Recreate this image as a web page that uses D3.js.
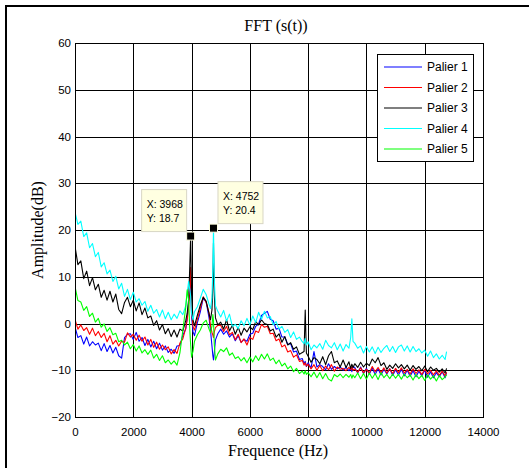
<!DOCTYPE html>
<html>
<head>
<meta charset="utf-8">
<script src="https://cdn.jsdelivr.net/npm/d3@7"></script>
<style>
  body { margin: 0; background: #fff; }
  svg { display: block; }
</style>
</head>
<body>
<svg id="chart" width="529" height="468"></svg>
<script>
// Frequency samples (Hz), shared by all five spectra
const freqHz = [
  0,100,200,300,400,500,600,700,800,900,1000,1100,1200,1300,1400,1500,1600,1700,1800,1900,
  2000,2100,2200,2300,2400,2500,2600,2700,2800,2900,3000,3100,3200,3300,3400,3500,3600,3700,3800,
  3850,3900,3940,3968,4000,4050,4100,4200,4300,4400,4500,4600,4650,4700,4730,4752,4780,4820,4900,
  5000,5100,5200,5300,5400,5500,5600,5700,5800,5900,6000,6100,6200,6300,6400,6500,6600,6700,6800,6900,
  7000,7100,7200,7300,7400,7500,7600,7700,7800,
  7860,7900,7940,
  8000,8100,8200,8300,8400,8500,8600,8700,8800,8900,9000,9100,9200,9300,9400,
  9460,9500,9540,
  9600,9700,9800,9900,10000,10100,10200,10300,10400,10500,10600,10700,10800,10900,11000,11100,
  11200,11300,11400,11500,11600,11700,11800,11900,12000,12100,12200,12300,12400,12500,12600,12700,
  12750
];

// Amplitude (dB) of each stage
const palier1 = [
  -0.7,-3.0,-2.6,-4.4,-2.9,-4.8,-3.9,-4.6,-4.2,-5.8,-4.3,-6.0,-4.7,-6.3,-5.1,-6.9,-7.4,-3.0,-2.3,-2.2,
  -3.4,-1.9,-3.8,-3.0,-4.7,-3.4,-5.0,-3.8,-5.4,-4.2,-5.7,-4.8,-6.2,-5.5,-6.4,-4.8,-4.7,-2.5,-1.2,
  1.2,4.5,6.8,8.5,1.5,-1.8,-2.6,0.2,2.5,5.4,4.6,1.2,-1.5,-4.8,-6.9,-7.8,-6.2,-3.5,-2.2,
  -1.2,-2.3,-1.6,-2.9,-2.2,-3.7,-2.6,-4.0,-3.4,-3.8,-2.3,-2.1,-0.6,-0.1,1.7,2.2,2.6,0.9,0.6,-1.2,
  -1.0,-2.9,-2.9,-4.5,-4.3,-6.1,-5.9,-7.7,-7.5,
  -8.6,-8.1,-9.2,
  -8.4,-9.5,-6.0,-9.3,-8.8,-9.2,-9.9,-8.6,-9.8,-9.2,-9.7,-9.3,-10.0,-9.4,-10.1,
  -9.5,-10.3,-9.2,
  -9.4,-10.6,-9.3,-10.7,-9.6,-10.8,-9.5,-10.9,-9.7,-11.0,-9.8,-10.8,-9.7,-11.1,-9.9,-11.0,
  -9.8,-11.2,-10.0,-11.3,-10.1,-11.4,-10.2,-11.2,-10.0,-11.5,-10.3,-11.6,-10.5,-11.4,-10.3,-11.6,
  -10.5
];
const palier2 = [
  0.9,-1.2,-0.3,-1.5,-0.9,-2.3,-1.0,-2.6,-1.7,-3.0,-2.1,-3.9,-2.6,-4.4,-3.6,-4.8,-3.8,-4.0,-2.0,-2.9,
  -2.3,-3.6,-2.5,-3.8,-2.9,-4.6,-3.4,-5.1,-4.0,-5.5,-4.6,-5.6,-5.0,-6.5,-5.6,-6.4,-4.2,-3.3,-1.0,
  0.8,3.5,8.0,12.0,2.5,-0.7,-1.4,0.9,3.2,5.7,4.5,2.2,-0.5,-1.9,-2.5,-3.0,-1.8,-0.9,-0.4,
  -0.4,-1.7,-0.6,-2.4,-1.9,-3.5,-2.3,-4.1,-3.3,-4.6,-3.0,-3.4,-1.6,-1.9,-0.2,-0.8,-0.6,-2.2,-2.1,-3.7,
  -3.3,-5.0,-4.6,-6.1,-5.8,-7.2,-6.7,-8.1,-7.9,
  -8.9,-8.4,-9.1,
  -8.7,-9.7,-8.8,-10.0,-9.0,-10.1,-9.1,-9.9,-8.8,-10.2,-9.3,-9.8,-9.6,-10.1,-9.4,
  -9.9,-9.3,-10.0,
  -9.7,-10.4,-9.5,-10.5,-9.8,-10.6,-9.2,-10.3,-9.4,-10.5,-9.5,-10.6,-9.7,-10.7,-9.6,-10.5,
  -9.5,-10.6,-9.8,-10.8,-9.7,-10.7,-9.9,-10.9,-9.8,-10.8,-10.0,-11.0,-10.1,-11.1,-10.2,-11.2,
  -10.4
];
const palier3 = [
  16.5,12.6,13.4,9.6,11.2,8.1,9.8,7.2,8.4,5.6,7.1,5.0,6.9,4.6,6.3,3.0,2.1,4.5,5.6,3.6,
  5.0,2.7,4.4,1.9,3.3,1.2,1.6,-0.4,0.6,-1.4,-0.2,-2.2,-1.1,-2.8,-1.4,-2.9,-1.2,-1.6,0.6,
  2.2,5.1,12.5,18.7,6.5,0.7,-0.5,1.8,3.9,5.6,4.8,2.1,0.8,2.9,8.5,17.2,6.0,1.2,-0.3,
  0.3,-1.2,0.8,-1.6,-0.4,-2.3,-0.8,-2.5,-1.0,-1.8,-0.7,-1.3,0.4,-0.3,0.8,0.0,-0.2,-1.6,-1.2,-2.9,
  -2.2,-4.0,-2.8,-4.6,-4.1,-5.5,-5.0,-6.6,-6.2,
  -6.0,2.9,-6.3,
  -7.0,-8.3,-7.3,-7.7,-8.6,-7.1,-8.8,-6.9,-6.0,-8.4,-8.0,-9.3,-7.8,-9.4,-8.2,
  -9.6,-8.7,-9.4,
  -8.6,-9.4,-8.3,-9.3,-8.5,-9.0,-7.6,-8.4,-7.3,-9.0,-8.4,-9.8,-8.9,-9.6,-8.6,-9.5,
  -8.8,-9.7,-8.9,-10.0,-9.0,-9.8,-9.2,-10.1,-9.1,-10.3,-9.3,-10.0,-9.6,-10.4,-9.7,-10.6,
  -9.6
];
const palier4 = [
  23.8,21.2,21.9,18.6,19.4,16.2,17.1,14.3,15.2,12.1,13.0,10.6,11.4,9.0,10.1,7.4,8.6,5.8,7.3,5.1,
  6.7,4.6,5.3,3.9,4.7,2.6,3.9,2.2,3.0,1.4,2.9,1.0,2.4,0.8,2.0,1.1,2.7,1.9,3.8,
  6.5,9.0,7.2,5.8,2.1,0.8,2.5,3.6,5.4,7.3,6.2,4.1,3.2,5.5,12.0,20.4,9.5,3.8,2.6,
  1.4,2.8,0.5,2.0,-0.6,-0.2,-1.1,0.6,-0.5,1.1,-0.3,1.6,0.2,2.4,0.9,2.6,1.2,1.5,-0.3,0.4,
  -1.2,-0.6,-1.9,-1.3,-3.0,-1.8,-3.4,-2.9,-3.9,
  -4.3,-3.2,-4.6,
  -3.9,-5.6,-4.6,-5.2,-4.3,-5.5,-3.6,-4.7,-5.2,-4.1,-5.6,-4.4,-5.9,-4.5,-5.3,
  -3.0,1.0,-3.8,
  -4.2,-5.3,-4.8,-6.3,-4.9,-6.1,-5.0,-6.4,-5.1,-6.2,-5.3,-4.7,-6.0,-4.9,-6.2,-5.0,
  -4.6,-5.9,-4.8,-6.1,-4.9,-6.0,-5.4,-6.3,-5.7,-7.0,-5.9,-7.3,-6.5,-7.6,-6.8,-7.7,
  -6.0
];
const palier5 = [
  7.9,4.9,4.6,2.8,3.6,1.5,2.2,0.3,1.1,-0.8,-0.1,-1.7,-0.9,-2.4,-2.1,-3.9,-3.6,-4.6,-4.0,-5.4,
  -4.5,-5.9,-4.8,-6.3,-5.6,-6.6,-5.7,-7.4,-6.6,-7.9,-6.9,-8.4,-7.8,-8.7,-8.0,-8.9,-6.3,-1.5,3.5,
  7.2,5.0,-1.5,-4.5,-7.2,-5.9,-3.8,-2.4,-1.4,0.1,0.7,-1.2,-2.0,-0.5,1.9,0.6,-4.5,-7.8,-6.5,
  -5.5,-6.0,-5.2,-6.8,-6.3,-7.5,-7.1,-8.0,-7.3,-8.4,-7.2,-8.2,-6.9,-7.9,-6.6,-7.6,-6.5,-7.9,-7.4,-8.6,
  -7.8,-9.1,-8.5,-9.7,-9.1,-10.3,-9.6,-10.7,-10.2,
  -10.8,-10.1,-10.9,
  -10.5,-11.4,-10.4,-11.6,-10.5,-11.8,-10.7,-11.9,-12.3,-10.9,-11.4,-10.8,-11.6,-10.9,-11.5,
  -10.9,-11.7,-11.0,
  -11.6,-10.6,-11.8,-10.7,-11.9,-10.6,-11.7,-10.7,-12.0,-10.5,-11.6,-10.9,-11.8,-10.8,-11.7,-10.9,
  -11.9,-10.8,-11.6,-11.0,-12.1,-10.9,-11.8,-11.1,-12.2,-11.0,-11.9,-11.2,-12.3,-11.1,-12.0,-11.4,
  -11.0
];

const seriesNames  = ["Palier 1", "Palier 2", "Palier 3", "Palier 4", "Palier 5"];
const seriesValues = [palier1, palier2, palier3, palier4, palier5];
const seriesColors = ["#0000ff", "#ff0000", "#000000", "#00ffff", "#00ff00"];

const xTicks = [0, 2000, 4000, 6000, 8000, 10000, 12000, 14000];
const yTicks = [-20, -10, 0, 10, 20, 30, 40, 50, 60];

// Data cursors: frequency, amplitude and which side the tip box sits on
const tipFreq  = [3968, 4752];
const tipAmp   = [18.7, 20.4];
const tipSide  = ["left", "right"];

const svg = d3.select("#chart");
const box = { left: 75, top: 43, right: 483, bottom: 417 };

const x = d3.scaleLinear().domain([0, 14000]).range([box.left, box.right]);
const y = d3.scaleLinear().domain([-20, 60]).range([box.bottom, box.top]);

// figure frame
svg.append("rect")
  .attr("x", 6).attr("y", 6)
  .attr("width", 600).attr("height", 600)
  .attr("fill", "#fff").attr("stroke", "#000").attr("stroke-width", 2);

// plot background
svg.append("rect")
  .attr("x", box.left).attr("y", box.top)
  .attr("width", box.right - box.left).attr("height", box.bottom - box.top)
  .attr("fill", "#fff");

const tickFont = "'Liberation Sans', Arial, sans-serif";
const serifFont = "'Liberation Serif', 'Times New Roman', serif";

// x axis with full-height grid lines
const gx = svg.append("g")
  .attr("transform", `translate(0,${box.bottom})`)
  .call(d3.axisBottom(x).tickValues(xTicks).tickFormat(d3.format("d"))
    .tickSize(-(box.bottom - box.top)).tickPadding(11));
gx.select(".domain").remove();
gx.selectAll(".tick line").attr("stroke", "#000").attr("shape-rendering", "crispEdges");
gx.selectAll(".tick text").attr("font-family", tickFont).attr("font-size", 11.5).attr("fill", "#000");

// y axis with full-width grid lines
const gy = svg.append("g")
  .attr("transform", `translate(${box.left},0)`)
  .call(d3.axisLeft(y).tickValues(yTicks).tickFormat(d3.format("d"))
    .tickSize(-(box.right - box.left)).tickPadding(4));
gy.select(".domain").remove();
gy.selectAll(".tick line").attr("stroke", "#000").attr("shape-rendering", "crispEdges");
gy.selectAll(".tick text").attr("font-family", tickFont).attr("font-size", 11.5).attr("fill", "#000");

// clip for the spectra
svg.append("clipPath").attr("id", "plotClip")
  .append("rect")
  .attr("x", box.left).attr("y", box.top)
  .attr("width", box.right - box.left).attr("height", box.bottom - box.top);

const line = d3.line()
  .x(d => x(d[0]))
  .y(d => y(d[1]));

const plot = svg.append("g").attr("clip-path", "url(#plotClip)");
seriesValues.forEach((vals, i) => {
  const pts = freqHz.map((f, k) => [f, vals[k]]);
  plot.append("path")
    .datum(pts)
    .attr("d", line)
    .attr("fill", "none")
    .attr("stroke", seriesColors[i])
    .attr("stroke-width", 1.1)
    .attr("stroke-linejoin", "round");
});

// axes box
svg.append("rect")
  .attr("x", box.left).attr("y", box.top)
  .attr("width", box.right - box.left).attr("height", box.bottom - box.top)
  .attr("fill", "none").attr("stroke", "#000").attr("stroke-width", 1)
  .attr("shape-rendering", "crispEdges");

// legend
const lg = svg.append("g");
lg.append("rect")
  .attr("x", 377).attr("y", 54).attr("width", 96).attr("height", 107)
  .attr("fill", "#fff").attr("stroke", "#000").attr("stroke-width", 1)
  .attr("shape-rendering", "crispEdges");
seriesNames.forEach((name, i) => {
  const yy = 67 + i * 20.5;
  lg.append("line")
    .attr("x1", 384).attr("x2", 422).attr("y1", yy).attr("y2", yy)
    .attr("stroke", seriesColors[i]).attr("stroke-width", 1.2);
  lg.append("text")
    .attr("x", 427).attr("y", yy + 4.3)
    .attr("font-family", tickFont).attr("font-size", 12).attr("fill", "#000")
    .text(name);
});

// data cursors
tipFreq.forEach((f, i) => {
  const px = x(f), py = y(tipAmp[i]);
  const w = 45, h = 42;
  const bx = tipSide[i] === "left" ? px - 4 - w : px + 4.5;
  const by = py - 4.5 - h;
  const g = svg.append("g");
  g.append("rect")
    .attr("x", bx).attr("y", by).attr("width", w).attr("height", h)
    .attr("fill", "#ffffe1").attr("stroke", "#d8d6c4").attr("stroke-width", 1);
  g.append("text")
    .attr("x", bx + 5).attr("y", by + 18)
    .attr("font-family", tickFont).attr("font-size", 10.5).attr("fill", "#000")
    .text(`X: ${f}`);
  g.append("text")
    .attr("x", bx + 5).attr("y", by + 32)
    .attr("font-family", tickFont).attr("font-size", 10.5).attr("fill", "#000")
    .text(`Y: ${tipAmp[i]}`);
  g.append("rect")
    .attr("x", px - 4).attr("y", py - 4).attr("width", 8).attr("height", 8)
    .attr("fill", "#000").attr("stroke", "#ffffe1").attr("stroke-width", 1);
});

// title and axis labels
svg.append("text")
  .attr("x", 276).attr("y", 31)
  .attr("text-anchor", "middle")
  .attr("font-family", serifFont).attr("font-size", 16).attr("fill", "#000")
  .text("FFT (s(t))");

svg.append("text")
  .attr("x", 278).attr("y", 456)
  .attr("text-anchor", "middle")
  .attr("font-family", serifFont).attr("font-size", 16).attr("fill", "#000")
  .text("Frequence (Hz)");

svg.append("text")
  .attr("transform", "translate(43,230) rotate(-90)")
  .attr("text-anchor", "middle")
  .attr("font-family", serifFont).attr("font-size", 16).attr("fill", "#000")
  .text("Amplitude(dB)");
</script>
</body>
</html>
